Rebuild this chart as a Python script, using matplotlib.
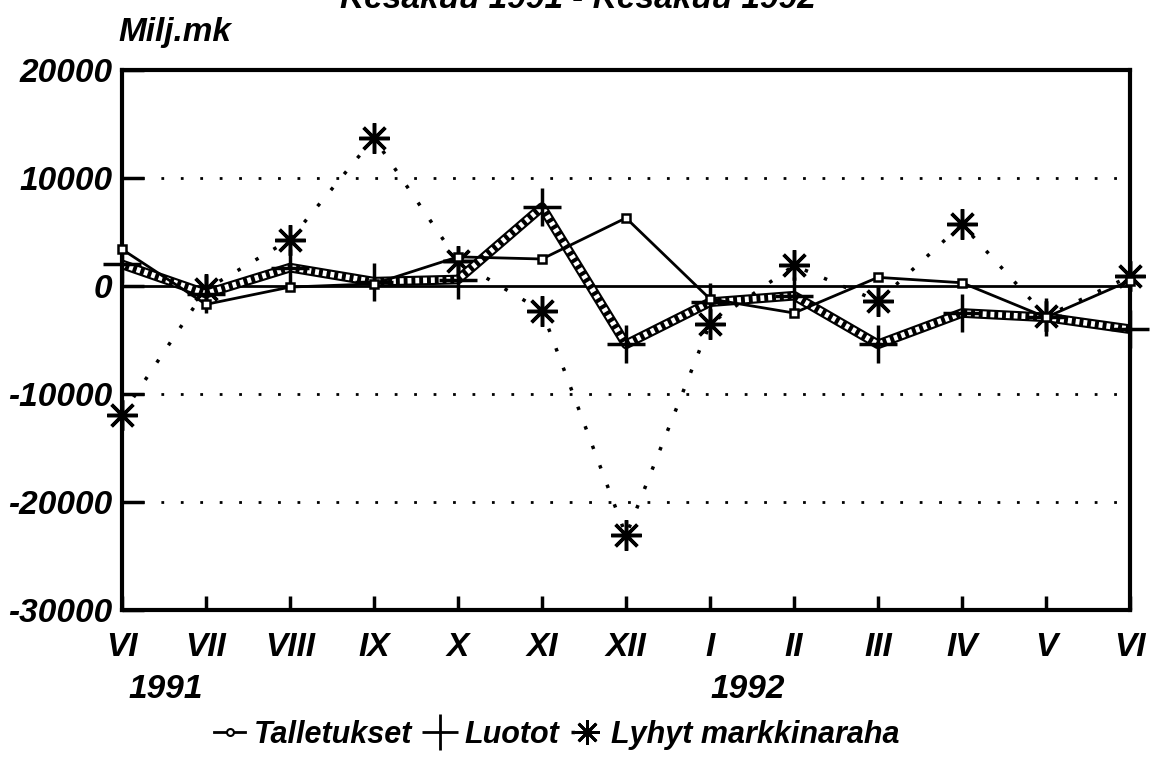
import matplotlib
matplotlib.use('Agg')
import matplotlib.pyplot as plt
from matplotlib.lines import Line2D

plt.rcParams['font.family'] = ['Liberation Sans', 'DejaVu Sans']
plt.rcParams['font.weight'] = 'bold'
plt.rcParams['font.style'] = 'italic'

# Kuukaudet kesäkuu 1991 - kesäkuu 1992
months = ['VI', 'VII', 'VIII', 'IX', 'X', 'XI', 'XII', 'I', 'II', 'III', 'IV', 'V', 'VI']
talletukset = [3400, -1700, -100, 200, 2700, 2500, 6300, -1200, -2500, 800, 300, -2900, 500]
luotot = [2000, -700, 1700, 400, 600, 7300, -5400, -1500, -900, -5400, -2500, -2900, -4000]
lyhyt = [-11900, -300, 4300, 13700, 2300, -2300, -23100, -3500, 1900, -1400, 5700, -2800, 900]
yticks = [20000, 10000, 0, -10000, -20000, -30000]
gridlines = [10000, -10000, -20000]

FS = 24
x = list(range(len(months)))
asterisk = (8, 2, 0)

fig = plt.figure(figsize=(11.55, 7.64), dpi=100)
ax = fig.add_axes([122 / 1155, 1 - 610 / 764, (1130 - 122) / 1155, (610 - 70) / 764])

for g in gridlines:
    ax.axhline(g, color='black', lw=2, ls=(0, (1, 6)), zorder=1)
ax.axhline(0, color='black', lw=2, zorder=1)

# Lyhyt markkinaraha: pisteviiva + tähdet
ax.plot(x, lyhyt, color='black', lw=2.5, ls=(0, (1, 5)), marker=asterisk,
        ms=22, mew=2.5, zorder=3, clip_on=False)
# Luotot: paksu "kuvioitu" viiva (ketju pieniä renkaita)
ax.plot(x, luotot, color='black', lw=7, solid_joinstyle='round', zorder=4)
ax.plot(x, luotot, color='white', lw=4, ls=(0, (0.7, 0.7)), zorder=5)
ax.plot(x, luotot, ls='none', marker='+', ms=28, mew=2.5, color='black', zorder=6, clip_on=False)
# Talletukset: ohut viiva + pienet neliöt
ax.plot(x, talletukset, color='black', lw=2, marker='s', ms=6, mfc='white',
        mec='black', mew=1.8, zorder=7, clip_on=False)

ax.set_xlim(0, len(months) - 1)
ax.set_ylim(-30000, 20000)
ax.set_xticks(x)
ax.set_xticklabels(months, fontsize=FS, fontweight='bold', style='italic')
ax.set_yticks(yticks)
ax.set_yticklabels([str(v) for v in yticks], fontsize=FS, fontweight='bold', style='italic')
ax.tick_params(axis='x', direction='in', length=10, width=2.5, pad=16)
ax.tick_params(axis='y', direction='in', length=16, width=2.5, pad=7)
for s in ax.spines.values():
    s.set_linewidth(3)

fig.text(0.5, 1.0, 'Kesäkuu 1991 - Kesäkuu 1992', ha='center', va='center',
         fontsize=FS, fontweight='bold', style='italic')
fig.text(118 / 1155, 1 - 32 / 764, 'Milj.mk', ha='left', va='center',
         fontsize=FS, fontweight='bold', style='italic')
fig.text(128 / 1155, 1 - 690 / 764, '1991', ha='left', va='center',
         fontsize=FS, fontweight='bold', style='italic')
fig.text(710 / 1155, 1 - 690 / 764, '1992', ha='left', va='center',
         fontsize=FS, fontweight='bold', style='italic')

handles = [
    Line2D([], [], color='black', lw=2, marker='o', ms=5, mfc='white', mec='black', mew=1.5),
    Line2D([], [], ls='none', marker='+', ms=26, mew=2, color='black'),
    Line2D([], [], color='black', lw=2.5, ls=(0, (1, 4)), marker=asterisk, ms=18, mew=2),
]
fig.legend(handles, ['Talletukset', 'Luotot', 'Lyhyt markkinaraha'],
           loc='center', bbox_to_anchor=(557 / 1155, 1 - 735 / 764), ncol=3,
           frameon=False, handlelength=1.0, handletextpad=0.3, columnspacing=0.4,
           prop={'size': 22, 'weight': 'bold', 'style': 'italic'})

fig.savefig('out.png', dpi=100)
